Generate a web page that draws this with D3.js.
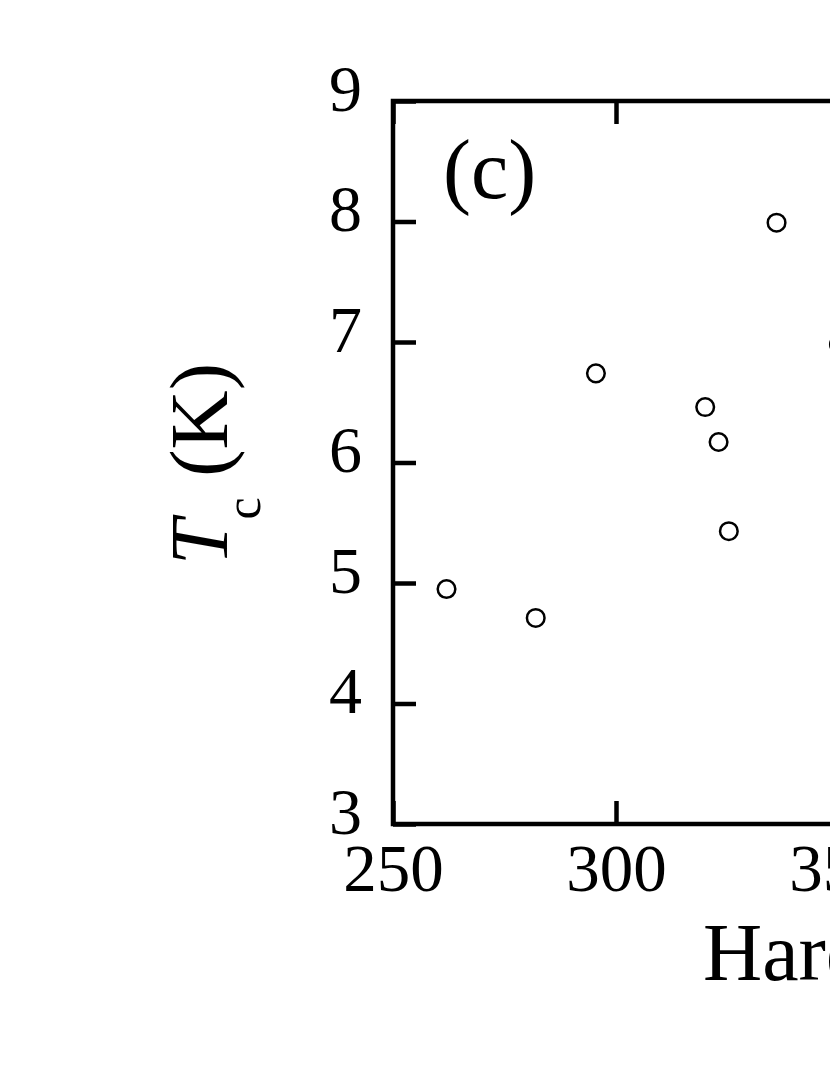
<!DOCTYPE html>
<html>
<head>
<meta charset="utf-8">
<script src="https://cdn.jsdelivr.net/npm/d3@7"></script>
<style>
  body { margin: 0; background: #fff; overflow: hidden; }
  svg { display: block; font-family: "Liberation Serif", "Times New Roman", serif; }
</style>
</head>
<body>
<div class="container1"></div>
<script>
// valores
const hardness = [262, 282, 295.5, 320, 323, 325.3, 336, 350];
const tc       = [4.95, 4.71, 6.74, 6.46, 6.17, 5.43, 7.99, 6.98];
const xTicks = [250, 300, 350, 400, 450];
const yTicks = [3, 4, 5, 6, 7, 8, 9];
const panelLabel = "(c)";
const xTitle = "Hardness (HV)";

const W = 830, H = 1075;
const plotLeft = 393, plotTop = 101, plotBottom = 824,
      plotRight = plotLeft + 223 * 4;   // el panel sigue fuera del recorte

const svg = d3.select(".container1").append("svg")
    .attr("width", W)
    .attr("height", H);

svg.append("rect").attr("width", W).attr("height", H).attr("fill", "#fff");

const x = d3.scaleLinear().domain([250, 450]).range([plotLeft, plotRight]);
const y = d3.scaleLinear().domain([3, 9]).range([plotBottom, plotTop]);

// ejes con marcas hacia dentro
const xAxisB = svg.append("g")
    .attr("transform", `translate(0,${plotBottom})`)
    .call(d3.axisBottom(x).tickValues(xTicks).tickSize(-23).tickSizeOuter(0).tickFormat(d3.format("d")));
const xAxisT = svg.append("g")
    .attr("transform", `translate(0,${plotTop})`)
    .call(d3.axisTop(x).tickValues(xTicks).tickSize(-23).tickSizeOuter(0).tickFormat(""));
const yAxisL = svg.append("g")
    .attr("transform", `translate(${plotLeft},0)`)
    .call(d3.axisLeft(y).tickValues(yTicks).tickSize(-23).tickSizeOuter(0).tickFormat(d3.format("d")));

[xAxisB, xAxisT, yAxisL].forEach(g => {
  g.select(".domain").remove();
  g.selectAll(".tick line").attr("stroke", "#000").attr("stroke-width", 4.5);
});

xAxisB.selectAll(".tick text")
    .attr("y", 67)
    .attr("dy", null)
    .attr("fill", "#000")
    .style("font-size", "67px")
    .style("font-family", "Liberation Serif, Times New Roman, serif");

yAxisL.selectAll(".tick text")
    .attr("x", -31)
    .attr("y", 9)
    .attr("dy", null)
    .attr("fill", "#000")
    .style("font-size", "66px")
    .style("font-family", "Liberation Serif, Times New Roman, serif");

// marco
svg.append("rect")
    .attr("x", plotLeft)
    .attr("y", plotTop)
    .attr("width", plotRight - plotLeft)
    .attr("height", plotBottom - plotTop)
    .attr("fill", "none")
    .attr("stroke", "#000")
    .attr("stroke-width", 4.5);

// puntos
svg.selectAll(".pt")
  .data(hardness.map((h, i) => ({h: h, t: tc[i]})))
  .enter().append("circle")
    .attr("class", "pt")
    .attr("cx", d => x(d.h))
    .attr("cy", d => y(d.t))
    .attr("r", 8.8)
    .attr("fill", "#fff")
    .attr("stroke", "#000")
    .attr("stroke-width", 2.5);

// etiqueta del panel
svg.append("text")
    .attr("x", 443)
    .attr("y", 198)
    .style("font-size", "84px")
    .text(panelLabel);

// titulo eje x
svg.append("text")
    .attr("x", 703)
    .attr("y", 980)
    .style("font-size", "82px")
    .text(xTitle);

// titulo eje y
const yt = svg.append("text")
    .attr("transform", "translate(227,565) rotate(-90)")
    .style("font-size", "82px");
yt.append("tspan").style("font-style", "italic").text("T");
yt.append("tspan").attr("dy", 33).style("font-size", "50px").text("c");
yt.append("tspan").attr("dy", -33).text(" (K)");
</script>
</body>
</html>
